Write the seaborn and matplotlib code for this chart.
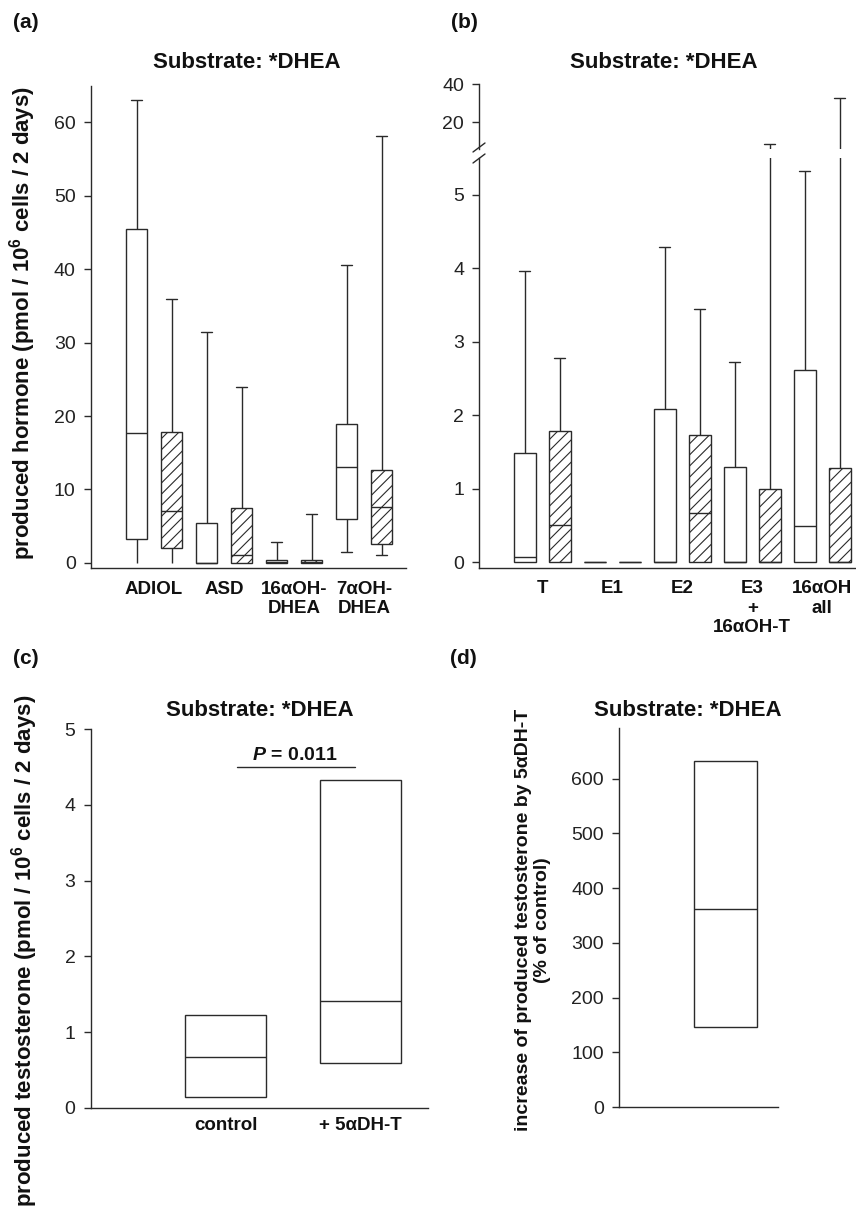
import numpy as np
import pandas as pd
import matplotlib
matplotlib.use("Agg")
import matplotlib.pyplot as plt
import seaborn as sns
from matplotlib.lines import Line2D

# ---------------- data (five-number summaries) ----------------
groups = ["control", "treated"]

# panel (a)
cats_a = ["ADIOL", "ASD", "16αOH-\nDHEA", "7αOH-\nDHEA"]
a_ctrl_min = [0.0, 0.0, 0.0, 1.5]
a_ctrl_q1 = [3.2, 0.0, 0.0, 6.0]
a_ctrl_med = [17.7, 0.0, 0.15, 13.1]
a_ctrl_q3 = [45.5, 5.4, 0.35, 18.9]
a_ctrl_max = [63.0, 31.4, 2.8, 40.5]
a_trt_min = [0.0, 0.0, 0.0, 1.1]
a_trt_q1 = [2.0, 0.0, 0.0, 2.6]
a_trt_med = [7.0, 1.1, 0.15, 7.6]
a_trt_q3 = [17.8, 7.5, 0.35, 12.7]
a_trt_max = [35.9, 24.0, 6.6, 58.2]

# panel (b)
cats_b = ["T", "E1", "E2", "E3\n+\n16αOH-T", "16αOH\nall"]
b_ctrl_min = [0.0, 0.0, 0.0, 0.0, 0.0]
b_ctrl_q1 = [0.0, 0.0, 0.0, 0.0, 0.0]
b_ctrl_med = [0.07, 0.0, 0.0, 0.0, 0.5]
b_ctrl_q3 = [1.49, 0.0, 2.09, 1.30, 2.61]
b_ctrl_max = [3.97, 0.0, 4.29, 2.73, 5.33]
b_trt_min = [0.0, 0.0, 0.0, 0.0, 0.0]
b_trt_q1 = [0.0, 0.0, 0.0, 0.0, 0.0]
b_trt_med = [0.51, 0.0, 0.67, 0.0, 0.0]
b_trt_q3 = [1.79, 0.0, 1.73, 1.00, 1.29]
b_trt_max = [2.78, 0.0, 3.45, 8.6, 33.0]

# panel (c)
cats_c = ["control", "+ 5αDH-T"]
c_q1 = [0.145, 0.586]
c_med = [0.674, 1.41]
c_q3 = [1.22, 4.33]
p_value_text = "$P$ = 0.011"

# panel (d)
cats_d = [""]
d_q1 = [145.7]
d_med = [361.0]
d_q3 = [633.0]

# ---------------- helpers ----------------
def long_rows(cats, group, mins, q1s, meds, q3s, maxs):
    rows = []
    for c, lo, q1, md, q3, hi in zip(cats, mins, q1s, meds, q3s, maxs):
        for v in (lo, q1, md, q3, hi):
            rows.append({"cat": c, "group": group, "value": v})
    return rows

df_a = pd.DataFrame(
    long_rows(cats_a, "control", a_ctrl_min, a_ctrl_q1, a_ctrl_med, a_ctrl_q3, a_ctrl_max)
    + long_rows(cats_a, "treated", a_trt_min, a_trt_q1, a_trt_med, a_trt_q3, a_trt_max))
df_b = pd.DataFrame(
    long_rows(cats_b, "control", b_ctrl_min, b_ctrl_q1, b_ctrl_med, b_ctrl_q3, b_ctrl_max)
    + long_rows(cats_b, "treated", b_trt_min, b_trt_q1, b_trt_med, b_trt_q3, b_trt_max))
df_c = pd.DataFrame(long_rows(cats_c, "x", c_q1, c_q1, c_med, c_q3, c_q3))
df_d = pd.DataFrame(long_rows(cats_d, "x", d_q1, d_q1, d_med, d_q3, d_q3))

sns.set_theme(style="ticks")
plt.rcParams["font.family"] = ["Liberation Sans", "DejaVu Sans"]
plt.rcParams["mathtext.fontset"] = "custom"
plt.rcParams["mathtext.rm"] = "Liberation Sans"
plt.rcParams["mathtext.bf"] = "Liberation Sans:bold"
plt.rcParams["mathtext.it"] = "Liberation Sans:italic:bold"
plt.rcParams["hatch.linewidth"] = 0.8

LINE = "#2a2a2a"
W, H = 856, 1218
fig = plt.figure(figsize=(W / 100, H / 100), dpi=100)

def px_axes(x0, x1, ytop, ybot):
    return fig.add_axes([x0 / W, 1 - ybot / H, (x1 - x0) / W, (ybot - ytop) / H])

def hide_zero_caps(ax):
    for ln in ax.lines:
        xs, ys = np.asarray(ln.get_xdata(), float), np.asarray(ln.get_ydata(), float)
        if len(xs) == 2 and ys[0] == 0 and ys[1] == 0 and abs(xs[1] - xs[0]) < 0.2:
            ln.set_visible(False)

def draw_hue(ax, df, order):
    sns.boxplot(data=df, x="cat", y="value", order=order, hue="group", hue_order=groups,
                palette={"control": "white", "treated": "white"}, width=1.0, gap=0.38,
                whis=(0, 100), linewidth=1.0, linecolor=LINE, saturation=1,
                legend=False, ax=ax)
    for p in ax.patches:
        xs = p.get_path().vertices[:, 0]
        xc = (xs.min() + xs.max()) / 2
        if (xc - np.floor(xc)) < 0.5:
            p.set_hatch("///")
    hide_zero_caps(ax)

def draw_plain(ax, df, order):
    sns.boxplot(data=df, x="cat", y="value", order=order, color="white", width=0.6,
                whis=(0, 100), linewidth=1.0, linecolor=LINE, saturation=1,
                showcaps=False, ax=ax)

def style(ax):
    ax.set_xlabel("")
    ax.set_ylabel("")
    for s in ["top", "right"]:
        ax.spines[s].set_visible(False)
    for s in ["left", "bottom"]:
        ax.spines[s].set_color(LINE)
        ax.spines[s].set_linewidth(1.0)
    ax.tick_params(axis="y", direction="out", length=5, width=1.0, color=LINE,
                   labelsize=14, labelcolor="#222222", pad=6)
    ax.tick_params(axis="x", length=0, labelsize=13.5, pad=9, labelcolor="#111111")
    for t in ax.get_xticklabels():
        t.set_fontweight("bold")
    ax.set_facecolor("white")

# ---------------- panel (a) ----------------
ax_a = px_axes(91, 406, 85.6, 568)
draw_hue(ax_a, df_a, cats_a)
ax_a.set_ylim(-0.7, 65)
ax_a.set_xlim(-0.9, 3.6)
ax_a.set_yticks(range(0, 61, 10))
style(ax_a)

# ---------------- panel (b) broken axis ----------------
ax_b = px_axes(479.3, 857.3, 157.7, 567.7)
ax_bu = px_axes(479.3, 857.3, 84.3, 148.9)
draw_hue(ax_b, df_b, cats_b)
draw_hue(ax_bu, df_b, cats_b)
ax_b.set_ylim(-0.073, 5.505)
ax_b.set_yticks(range(0, 6))
ax_b.set_xlim(-0.9, 4.5)
ax_bu.set_ylim(6.0, 40)
ax_bu.set_yticks([20, 40])
ax_bu.set_xlim(-0.9, 4.5)
style(ax_b)
style(ax_bu)
ax_bu.spines["bottom"].set_visible(False)
ax_bu.set_xticks([])
for (xa, ya, xb, yb) in [(473, 152, 485, 143), (473, 163, 485, 154)]:
    fig.add_artist(Line2D([xa / W, xb / W], [1 - ya / H, 1 - yb / H],
                          color=LINE, lw=1.0, transform=fig.transFigure))

# ---------------- panel (c) ----------------
ax_c = px_axes(90.7, 428, 729.3, 1107.7)
draw_plain(ax_c, df_c, cats_c)
ax_c.set_ylim(0, 5)
ax_c.set_xlim(-1.0, 1.5)
ax_c.set_yticks(range(0, 6))
style(ax_c)
ax_c.tick_params(axis="x", pad=7)
ax_c.plot([0.084, 0.96], [4.5, 4.5], color=LINE, lw=1.0)
ax_c.text(0.51, 4.66, p_value_text, ha="center", va="center", fontsize=14,
          fontweight="bold", color="#111111")

# ---------------- panel (d) ----------------
ax_d = px_axes(619.3, 778.3, 728.3, 1107)
draw_plain(ax_d, df_d, cats_d)
ax_d.set_ylim(0, 692)
ax_d.set_xlim(-1.0, 0.5)
ax_d.set_yticks(range(0, 601, 100))
style(ax_d)
ax_d.set_xticks([])

# ---------------- texts ----------------
def ftext(x, y, s, **kw):
    fig.text(x / W, 1 - y / H, s, **kw)

title = "Substrate: *DHEA"
for (x, y) in [(247, 62), (664, 62), (260, 711), (688, 711)]:
    ftext(x, y, title, ha="center", va="center", fontsize=16, fontweight="bold",
          color="#111111")

for (x, y, s) in [(13, 23, "(a)"), (451, 23, "(b)"), (13, 659, "(c)"), (450, 659, "(d)")]:
    ftext(x, y, s, ha="left", va="center", fontsize=15, fontweight="bold", color="#111111")

ftext(23, 323, "produced hormone (pmol / 10$^{\\mathbf{6}}$ cells / 2 days)",
      rotation=90, ha="center", va="center", fontsize=16, fontweight="bold", color="#111111")
ftext(25, 695, "produced testosterone (pmol / 10$^{\\mathbf{6}}$ cells / 2 days)",
      rotation=90, ha="center", va="top", fontsize=16, fontweight="bold", color="#111111")
ftext(533, 920, "increase of produced testosterone by 5αDH-T\n(% of control)",
      rotation=90, ha="center", va="center", fontsize=14, fontweight="bold",
      multialignment="center", color="#111111")

fig.savefig("out.png", dpi=100, facecolor="white")
